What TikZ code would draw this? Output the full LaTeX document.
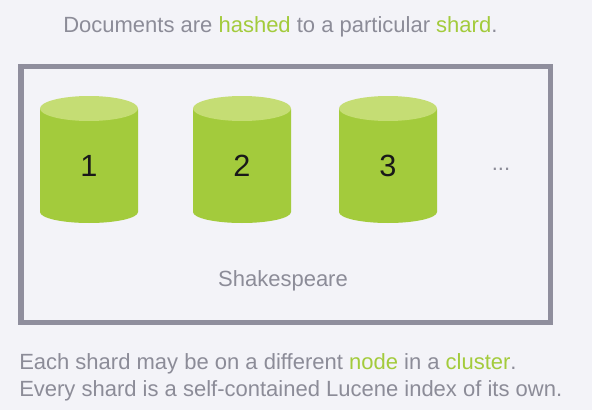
\documentclass[tikz,border=0pt]{standalone}
\usepackage{fontspec}
\setmainfont{Liberation Sans}
\definecolor{bg}{HTML}{F3F3F8}
\definecolor{txt}{HTML}{8C8C98}
\definecolor{grn}{HTML}{A3CB3C}
\definecolor{lgrn}{HTML}{C5DD74}
\definecolor{frm}{HTML}{8F8E9D}
\tikzset{lbl/.style={inner sep=0pt,anchor=base west,text=txt,font=\fontsize{16.5}{20}\selectfont},
num/.style={inner sep=0pt,font=\fontsize{23}{26}\selectfont,text=black!90}}
\newcommand{\hl}[1]{\textcolor{grn}{#1}}
\newcommand{\cyl}[3]{%
\fill[grn] (#1-49,-109) -- (#1-49,-212) arc[start angle=180,end angle=360,x radius=49,y radius=11] -- (#1+49,-109) -- cycle;
\fill[lgrn] (#1,-108.5) ellipse[x radius=49,y radius=12.5];
\node[num] (#3) at (#1,-166) {#2};}
\begin{document}
\begin{tikzpicture}[x=0.75pt,y=0.75pt]
\useasboundingbox (0,-410) rectangle (592,0);
\fill[bg] (0,-410) rectangle (592,0);
\node[lbl] (t1) at (63,-33) {Documents are \hl{hashed} to a particular \hl{shard}.};
\draw[frm,line width=3.9pt] (21,-66.5) rectangle (550.5,-322.5);
\cyl{89}{1}{c1}
\cyl{242}{2}{c2}
\cyl{388}{3}{c3}
\node[lbl,anchor=base] (dots) at (501,-170) {...};
\node[lbl,anchor=base] (s) at (283,-286) {Shakespeare};
\node[lbl] (b1) at (19,-369) {Each shard may be on a different \hl{node} in a \hl{cluster}.};
\node[lbl] (b2) at (19,-396) {Every shard is a self-contained Lucene index of its own.};
\end{tikzpicture}
\end{document}
